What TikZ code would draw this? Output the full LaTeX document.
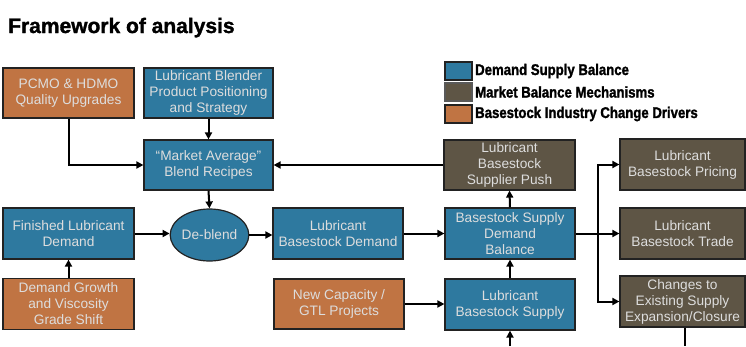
\documentclass[tikz,border=0pt]{standalone}
\usepackage{fontspec}
\setmainfont{Liberation Sans}
\newfontfamily\legfont[FakeStretch=0.85,FakeBold=1.5]{Liberation Sans Bold}
\newfontfamily\titlefont[FakeBold=1.5]{Liberation Sans Bold}
\usetikzlibrary{arrows.meta,shapes.geometric}
\definecolor{dsblue}{HTML}{2E799F}
\definecolor{mbbrown}{HTML}{5E5545}
\definecolor{icorange}{HTML}{C07443}
\definecolor{boxtext}{HTML}{DDDDDD}
\definecolor{edge}{HTML}{222222}
\begin{document}
\begin{tikzpicture}[x=1pt,y=-1pt,
  base/.style={draw=edge,line width=1.2pt,text=boxtext,inner sep=0pt,align=center,
    font=\fontsize{13.7}{16}\selectfont},
  bbox/.style={base,rectangle,fill=dsblue},
  gbox/.style={base,rectangle,fill=mbbrown},
  obox/.style={base,rectangle,fill=icorange},
  sz/.style 2 args={minimum width=#1,minimum height=#2},
  arr/.style={line width=2pt,-{Triangle[length=7pt,width=7pt]}},
  ln/.style={line width=2pt},
  legsq/.style={draw=edge,line width=1.2pt,minimum width=27,minimum height=18,inner sep=0pt},
  legtxt/.style={anchor=west,inner sep=0pt,font=\legfont\fontsize{15.5}{17}\selectfont}
]
\useasboundingbox (0,0) rectangle (746,346);

\node[anchor=base west,inner sep=0pt,font=\titlefont\fontsize{21}{24}\selectfont] (title) at (8,33) {Framework of analysis};

% legend
\node[legsq,fill=dsblue] (lg1) at (458.5,71) {};
\node[legsq,fill=mbbrown,draw=gray!70!black] (lg2) at (458.5,92) {};
\node[legsq,fill=icorange] (lg3) at (458.5,114) {};
\node[legtxt] (lt1) at (475,71) {Demand Supply Balance};
\node[legtxt] (lt2) at (475,92) {Market Balance Mechanisms};
\node[legtxt] (lt3) at (475,114) {Basestock Industry Change Drivers};

% boxes
\node[obox,sz={131}{50}] (pcmo) at (68.5,93) {PCMO \& HDMO\\Quality Upgrades};
\node[bbox,sz={129}{50}] (blender) at (208.5,93) {Lubricant Blender\\Product Positioning\\and Strategy};
\node[bbox,sz={129}{50}] (market) at (208.5,165) {``Market Average''\\Blend Recipes};
\node[bbox,sz={131}{51}] (finished) at (68.5,233.5) {Finished Lubricant\\Demand};
\node[obox,sz={131}{51}] (growth) at (68.5,304) {Demand Growth\\and Viscosity\\Grade Shift};
\node[base,ellipse,fill=dsblue,minimum width=66,minimum height=52] (deblend) at (209.5,235) {De-blend};
\node[bbox,sz={130}{51}] (lbdemand) at (338,233.5) {Lubricant\\Basestock Demand};
\node[obox,sz={130}{50}] (newcap) at (339,304) {New Capacity /\\GTL Projects};
\node[gbox,sz={131}{50}] (push) at (509.5,165) {Lubricant\\Basestock\\Supplier Push};
\node[bbox,sz={130}{51}] (balance) at (510,233.5) {Basestock Supply\\Demand\\Balance};
\node[bbox,sz={130}{51}] (supply) at (510,304.5) {Lubricant\\Basestock Supply};
\node[gbox,sz={125}{51}] (pricing) at (682.5,164.5) {Lubricant\\Basestock Pricing};
\node[gbox,sz={125}{51}] (trade) at (682.5,233.5) {Lubricant\\Basestock Trade};
\node[gbox,sz={125}{51}] (changes) at (682.5,301.5) {Changes to\\Existing Supply\\Expansion/Closure};

% connectors
\draw[arr] (pcmo.south) |- (market.west);
\draw[arr] (blender.south) -- (market.north);
\draw[arr] (push.west) -- (market.east);
\draw[arr] (market.south) -- (deblend.north);
\draw[arr] (finished.east) -- (finished.east -| deblend.west);
\draw[arr] (deblend.east) -- (deblend.east -| lbdemand.west);
\draw[arr] (growth.north) -- (finished.south);
\draw[arr] (lbdemand.east) -- (balance.west);
\draw[arr] (balance.north) -- (push.south);
\draw[arr] (supply.north) -- (balance.south);
\draw[arr] (newcap.east) -- (newcap.east -| supply.west);
\coordinate (split) at (598,233.5);
\draw[arr] (balance.east) -- (trade.west);
\draw[arr] (split) |- (pricing.west);
\draw[arr] (split) |- (changes.west);
\coordinate (supbot) at (510,346);
\draw[arr] (supbot) -- (supply.south);
\coordinate (chbot) at (685,346);
\draw[ln] (changes.south -| chbot) -- (chbot);
\end{tikzpicture}
\end{document}
